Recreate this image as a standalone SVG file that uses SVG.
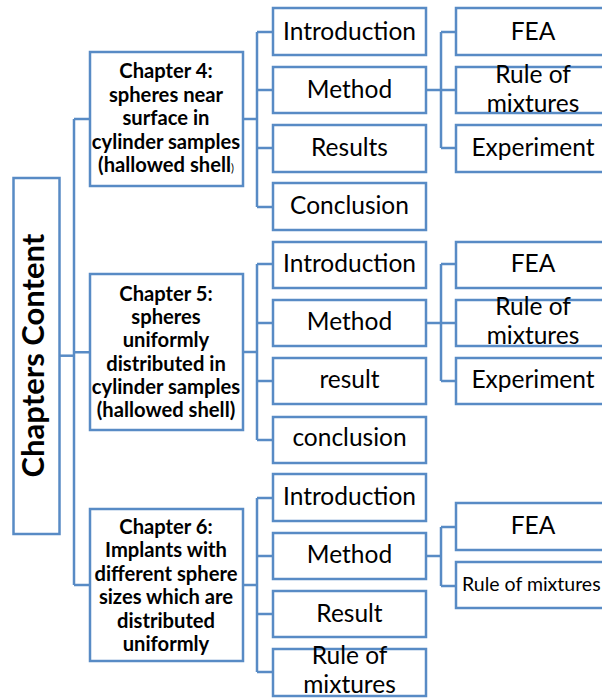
<svg xmlns="http://www.w3.org/2000/svg" width="602" height="699" viewBox="0 0 602 699">
  <style>
    .box { fill: #ffffff; stroke: #588BC5; stroke-width: 2.5; }
    .wire { fill: none; stroke: #588BC5; stroke-width: 2.5; }
    .lbl { font-family: Lato, "Liberation Sans", sans-serif; font-size: 24.5px; fill: #000; text-anchor: middle; }
    .chap { font-family: Lato, "Liberation Sans", sans-serif; font-size: 20.2px; font-weight: bold; fill: #000; text-anchor: middle; }
    .title { font-family: Lato, "Liberation Sans", sans-serif; font-size: 31px; font-weight: bold; fill: #000; text-anchor: middle; }
  </style>
  <rect width="602" height="699" fill="#ffffff"/>

  <!-- connectors -->
  <g id="connectors" class="wire">
    <!-- root to chapters -->
    <path d="M59 355.7 H74"/>
    <path d="M74 119 V585"/>
    <path d="M74 119 H90 M74 352.3 H90 M74 585 H90"/>
    <!-- chapter 4 -->
    <path d="M243 119 H257 M257 32 V207 M257 32 H273 M257 90 H273 M257 148 H273 M257 207 H273"/>
    <path d="M426 90 H441 M441 32 V148 M441 32 H456 M441 90 H456 M441 148 H456"/>
    <!-- chapter 5 -->
    <path d="M243 352 H257 M257 264 V440 M257 264 H273 M257 323 H273 M257 381 H273 M257 440 H273"/>
    <path d="M426 323 H441 M441 264 V381 M441 264 H456 M441 323 H456 M441 381 H456"/>
    <!-- chapter 6 -->
    <path d="M243 585 H257 M257 498 V672 M257 498 H273 M257 556 H273 M257 614 H273 M257 672 H273"/>
    <path d="M426 556 H441 M441 527 V586 M441 527 H456 M441 586 H456"/>
  </g>

  <!-- root -->
  <g id="chapters-content">
    <rect class="box" x="13.5" y="178" width="46" height="356"/>
    <text class="title" transform="translate(44,355.5) rotate(-90)">Chapters Content</text>
  </g>

  <!-- chapter 4 -->
  <g id="ch4">
    <rect class="box" x="90" y="52" width="153" height="134"/>
    <text class="chap" x="166" y="78">Chapter 4:</text>
    <text class="chap" x="166" y="101.5">spheres near</text>
    <text class="chap" x="166" y="125">surface in</text>
    <text class="chap" x="166" y="148.5">cylinder samples</text>
    <text class="chap" x="166" y="172">(hallowed shell<tspan font-size="11" font-weight="normal">)</tspan></text>
  </g>
  <g id="ch4-intro"><rect class="box" x="273" y="8" width="153" height="47"/><text class="lbl" x="349.5" y="40">Introduction</text></g>
  <g id="ch4-method"><rect class="box" x="273" y="67" width="153" height="46"/><text class="lbl" x="349.5" y="98">Method</text></g>
  <g id="ch4-results"><rect class="box" x="273" y="125" width="153" height="47"/><text class="lbl" x="349.5" y="156">Results</text></g>
  <g id="ch4-conclusion"><rect class="box" x="273" y="183" width="153" height="47"/><text class="lbl" x="349.5" y="214">Conclusion</text></g>
  <g id="ch4-fea"><rect class="box" x="456" y="8" width="153" height="47"/><text class="lbl" x="533" y="40">FEA</text></g>
  <g id="ch4-rom"><rect class="box" x="456" y="67" width="153" height="46"/><text class="lbl" x="533" y="83">Rule of</text><text class="lbl" x="533" y="112">mixtures</text></g>
  <g id="ch4-exp"><rect class="box" x="456" y="125" width="153" height="47"/><text class="lbl" x="533" y="156">Experiment</text></g>

  <!-- chapter 5 -->
  <g id="ch5">
    <rect class="box" x="90" y="274" width="153" height="156"/>
    <text class="chap" x="166" y="300.5">Chapter 5:</text>
    <text class="chap" x="166" y="323.5">spheres</text>
    <text class="chap" x="166" y="347">uniformly</text>
    <text class="chap" x="166" y="370.5">distributed in</text>
    <text class="chap" x="166" y="393.5">cylinder samples</text>
    <text class="chap" x="166" y="417">(hallowed shell)</text>
  </g>
  <g id="ch5-intro"><rect class="box" x="273" y="242" width="153" height="46"/><text class="lbl" x="349.5" y="272">Introduction</text></g>
  <g id="ch5-method"><rect class="box" x="273" y="300" width="153" height="46"/><text class="lbl" x="349.5" y="330">Method</text></g>
  <g id="ch5-result"><rect class="box" x="273" y="358" width="153" height="46"/><text class="lbl" x="349.5" y="388">result</text></g>
  <g id="ch5-conclusion"><rect class="box" x="273" y="417" width="153" height="46"/><text class="lbl" x="349.5" y="446">conclusion</text></g>
  <g id="ch5-fea"><rect class="box" x="456" y="242" width="153" height="46"/><text class="lbl" x="533" y="272">FEA</text></g>
  <g id="ch5-rom"><rect class="box" x="456" y="300" width="153" height="46"/><text class="lbl" x="533" y="315">Rule of</text><text class="lbl" x="533" y="344">mixtures</text></g>
  <g id="ch5-exp"><rect class="box" x="456" y="358" width="153" height="46"/><text class="lbl" x="533" y="388">Experiment</text></g>

  <!-- chapter 6 -->
  <g id="ch6">
    <rect class="box" x="90" y="509" width="153" height="152"/>
    <text class="chap" x="166" y="533.5">Chapter 6:</text>
    <text class="chap" x="166" y="557">Implants with</text>
    <text class="chap" x="166" y="580.5">different sphere</text>
    <text class="chap" x="166" y="604">sizes which are</text>
    <text class="chap" x="166" y="627.5">distributed</text>
    <text class="chap" x="166" y="651">uniformly</text>
  </g>
  <g id="ch6-intro"><rect class="box" x="273" y="474" width="153" height="47"/><text class="lbl" x="349.5" y="505">Introduction</text></g>
  <g id="ch6-method"><rect class="box" x="273" y="533" width="153" height="46"/><text class="lbl" x="349.5" y="563">Method</text></g>
  <g id="ch6-result"><rect class="box" x="273" y="591" width="153" height="46"/><text class="lbl" x="349.5" y="622">Result</text></g>
  <g id="ch6-rom"><rect class="box" x="273" y="649" width="153" height="47"/><text class="lbl" x="349.5" y="664">Rule of</text><text class="lbl" x="349.5" y="693">mixtures</text></g>
  <g id="ch6-fea"><rect class="box" x="456" y="503" width="153" height="47"/><text class="lbl" x="533" y="534">FEA</text></g>
  <g id="ch6-rom2"><rect class="box" x="456" y="562" width="153" height="46"/><text class="lbl" x="462" y="591" style="text-anchor:start;font-size:19.5px">Rule of mixtures</text></g>
</svg>
